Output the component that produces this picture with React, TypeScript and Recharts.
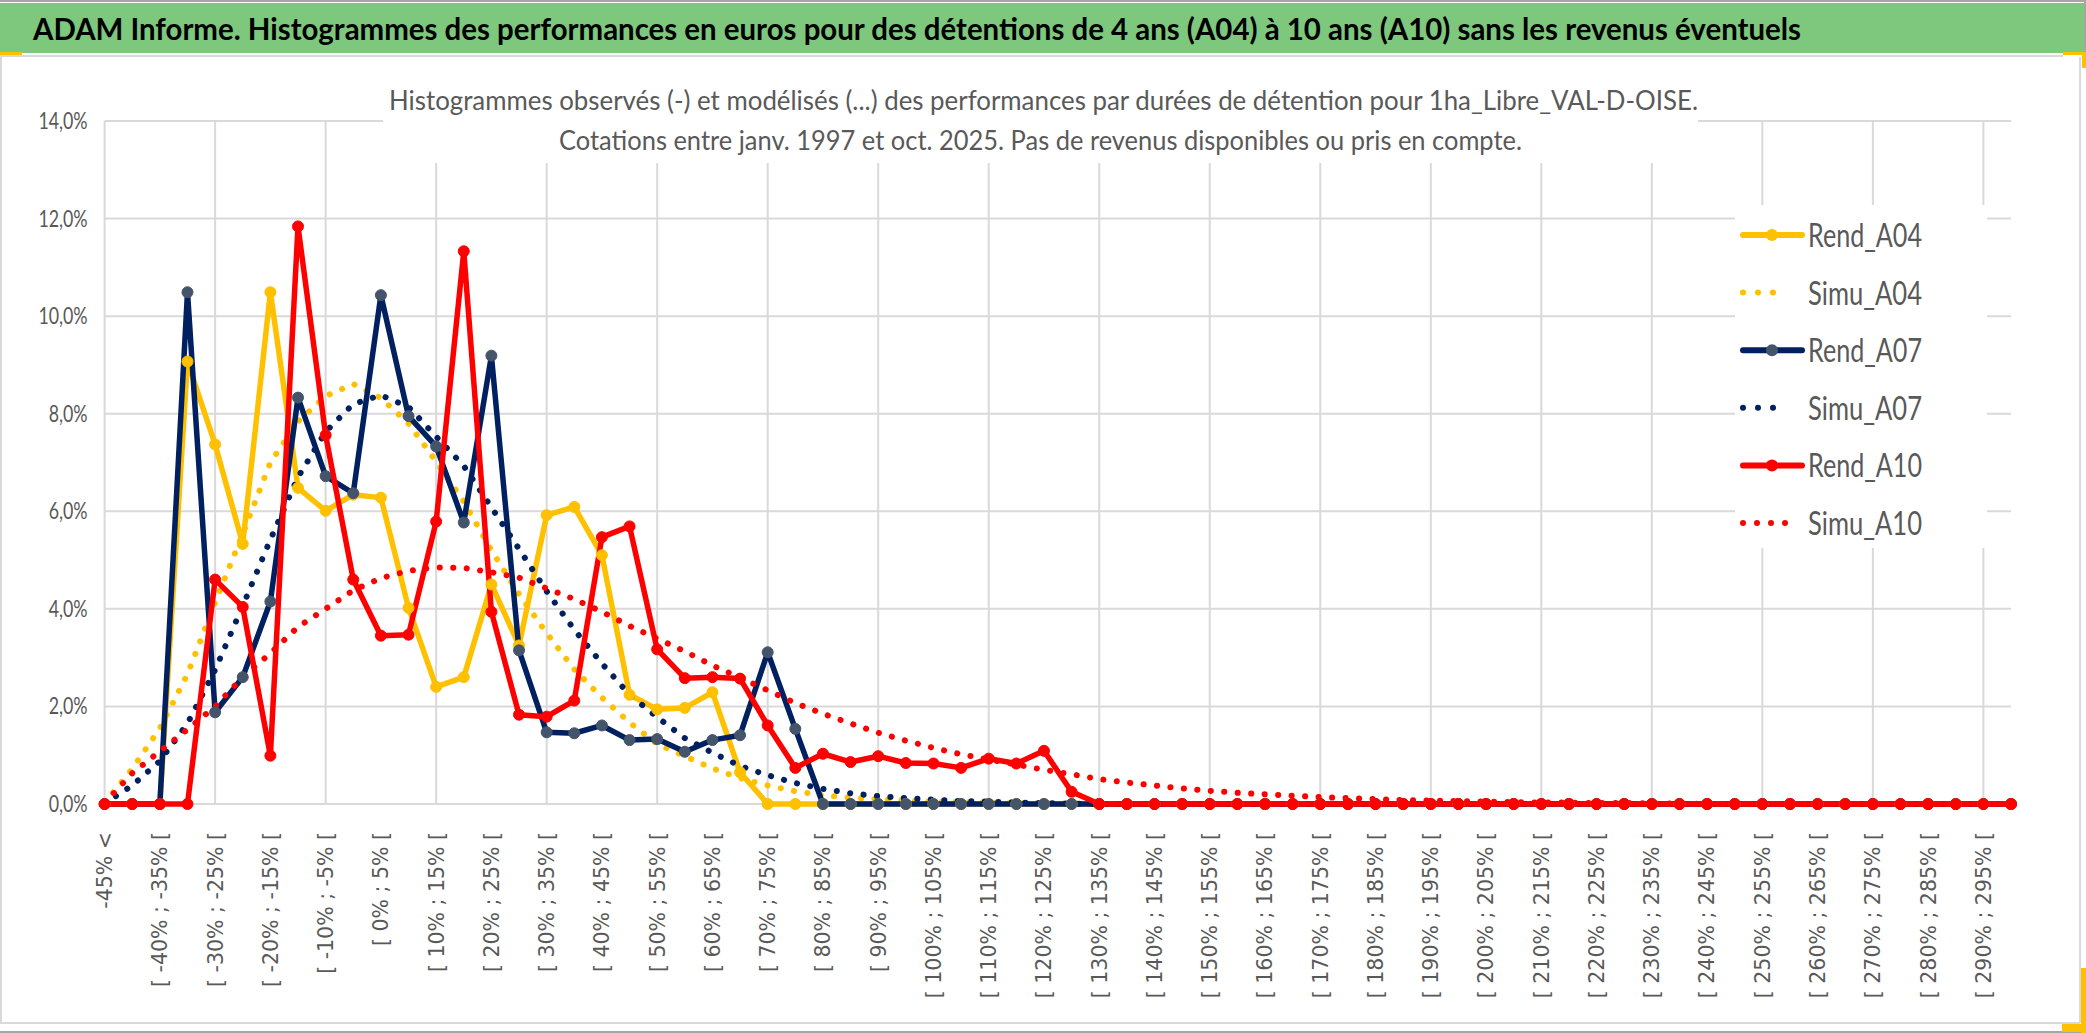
import React from 'react';
import { LineChart, Line, XAxis, YAxis, CartesianGrid, ReferenceLine } from 'recharts';

// Bins of the holding-period performance histograms
const CATEGORIES = [
  '-45% <', '[ -45% ; -40% [', '[ -40% ; -35% [', '[ -35% ; -30% [', '[ -30% ; -25% [',
  '[ -25% ; -20% [', '[ -20% ; -15% [', '[ -15% ; -10% [', '[ -10% ; -5% [', '[ -5% ; 0% [',
  '[ 0% ; 5% [', '[ 5% ; 10% [', '[ 10% ; 15% [', '[ 15% ; 20% [', '[ 20% ; 25% [',
  '[ 25% ; 30% [', '[ 30% ; 35% [', '[ 35% ; 40% [', '[ 40% ; 45% [', '[ 45% ; 50% [',
  '[ 50% ; 55% [', '[ 55% ; 60% [', '[ 60% ; 65% [', '[ 65% ; 70% [', '[ 70% ; 75% [',
  '[ 75% ; 80% [', '[ 80% ; 85% [', '[ 85% ; 90% [', '[ 90% ; 95% [', '[ 95% ; 100% [',
  '[ 100% ; 105% [', '[ 105% ; 110% [', '[ 110% ; 115% [', '[ 115% ; 120% [', '[ 120% ; 125% [',
  '[ 125% ; 130% [', '[ 130% ; 135% [', '[ 135% ; 140% [', '[ 140% ; 145% [', '[ 145% ; 150% [',
  '[ 150% ; 155% [', '[ 155% ; 160% [', '[ 160% ; 165% [', '[ 165% ; 170% [', '[ 170% ; 175% [',
  '[ 175% ; 180% [', '[ 180% ; 185% [', '[ 185% ; 190% [', '[ 190% ; 195% [', '[ 195% ; 200% [',
  '[ 200% ; 205% [', '[ 205% ; 210% [', '[ 210% ; 215% [', '[ 215% ; 220% [', '[ 220% ; 225% [',
  '[ 225% ; 230% [', '[ 230% ; 235% [', '[ 235% ; 240% [', '[ 240% ; 245% [', '[ 245% ; 250% [',
  '[ 250% ; 255% [', '[ 255% ; 260% [', '[ 260% ; 265% [', '[ 265% ; 270% [', '[ 270% ; 275% [',
  '[ 275% ; 280% [', '[ 280% ; 285% [', '[ 285% ; 290% [', '[ 290% ; 295% [', '[ 295% ; 300% [',
];

// values in %
const REND_A04 = [
  0, 0, 0, 9.07, 7.37, 5.33, 10.49, 6.48, 6.01, 6.34,
  6.28, 4.02, 2.4, 2.6, 4.5, 3.25, 5.92, 6.09, 5.1, 2.24,
  1.94, 1.97, 2.29, 0.65, 0, 0, 0, 0, 0, 0,
  0, 0, 0, 0, 0, 0, 0, 0, 0, 0,
  0, 0, 0, 0, 0, 0, 0, 0, 0, 0,
  0, 0, 0, 0, 0, 0, 0, 0, 0, 0,
  0, 0, 0, 0, 0, 0, 0, 0, 0, 0,
];
const SIMU_A04 = [
  0.02, 0.72, 1.55, 2.66, 4.13, 5.54, 7.0, 7.84, 8.36, 8.61,
  8.32, 7.8, 7.02, 6.2, 5.2, 4.3, 3.5, 2.76, 2.18, 1.67,
  1.23, 0.98, 0.73, 0.53, 0.38, 0.26, 0.18, 0.13, 0.1, 0.07,
  0.05, 0.04, 0.03, 0.02, 0.01, 0.01, 0, 0, 0, 0,
  0, 0, 0, 0, 0, 0, 0, 0, 0, 0,
  0, 0, 0, 0, 0, 0, 0, 0, 0, 0,
  0, 0, 0, 0, 0, 0, 0, 0, 0, 0,
];
const REND_A07 = [
  0, 0, 0, 10.49, 1.88, 2.6, 4.15, 8.33, 6.72, 6.37,
  10.43, 7.95, 7.33, 5.77, 9.19, 3.15, 1.47, 1.45, 1.61, 1.31,
  1.33, 1.07, 1.31, 1.41, 3.11, 1.54, 0, 0, 0, 0,
  0, 0, 0, 0, 0, 0, 0, 0, 0, 0,
  0, 0, 0, 0, 0, 0, 0, 0, 0, 0,
  0, 0, 0, 0, 0, 0, 0, 0, 0, 0,
  0, 0, 0, 0, 0, 0, 0, 0, 0, 0,
];
const SIMU_A07 = [
  0.01, 0.38, 0.88, 1.65, 2.75, 4.06, 5.42, 6.7, 7.63, 8.2,
  8.38, 8.14, 7.53, 6.93, 6.08, 5.23, 4.36, 3.57, 2.88, 2.24,
  1.78, 1.35, 1.05, 0.78, 0.59, 0.43, 0.31, 0.22, 0.16, 0.12,
  0.09, 0.06, 0.05, 0.03, 0.02, 0.01, 0, 0, 0, 0,
  0, 0, 0, 0, 0, 0, 0, 0, 0, 0,
  0, 0, 0, 0, 0, 0, 0, 0, 0, 0,
  0, 0, 0, 0, 0, 0, 0, 0, 0, 0,
];
const REND_A10 = [
  0, 0, 0, 0, 4.6, 4.04, 0.99, 11.84, 7.56, 4.6,
  3.45, 3.47, 5.79, 11.33, 3.94, 1.83, 1.79, 2.12, 5.47, 5.69,
  3.17, 2.58, 2.6, 2.57, 1.61, 0.74, 1.03, 0.86, 0.98, 0.84,
  0.83, 0.74, 0.93, 0.83, 1.09, 0.25, 0, 0, 0, 0,
  0, 0, 0, 0, 0, 0, 0, 0, 0, 0,
  0, 0, 0, 0, 0, 0, 0, 0, 0, 0,
  0, 0, 0, 0, 0, 0, 0, 0, 0, 0,
];
const SIMU_A10 = [
  0.02, 0.63, 1.08, 1.53, 2.0, 2.6, 3.09, 3.63, 4.0, 4.38,
  4.63, 4.78, 4.85, 4.84, 4.75, 4.64, 4.42, 4.2, 3.94, 3.65,
  3.39, 3.13, 2.84, 2.59, 2.33, 2.07, 1.85, 1.65, 1.46, 1.3,
  1.15, 1.02, 0.91, 0.81, 0.7, 0.61, 0.51, 0.44, 0.38, 0.32,
  0.27, 0.23, 0.2, 0.17, 0.14, 0.12, 0.1, 0.08, 0.07, 0.06,
  0.05, 0.04, 0.03, 0.03, 0.02, 0.02, 0.01, 0.01, 0, 0,
  0, 0, 0, 0, 0, 0, 0, 0, 0, 0,
];

const Y_TICKS = [0, 2, 4, 6, 8, 10, 12, 14];

const TITLE = 'ADAM Informe. Histogrammes des performances en euros pour des détentions de 4 ans (A04) à 10 ans (A10) sans les revenus éventuels';
const SUBTITLE_1 = 'Histogrammes observés (-) et modélisés (...) des performances par durées de détention pour 1ha_Libre_VAL-D-OISE.';
const SUBTITLE_2 = 'Cotations entre janv. 1997 et oct. 2025. Pas de revenus disponibles ou pris en compte.';

const GOLD = '#FFC000';
const NAVY = '#002060';
const RED = '#FF0000';
const GRID = '#D9D9D9';
const TEXT = '#595959';

const SERIES = [
  { key: 'rendA04', name: 'Rend_A04', color: GOLD, marker: GOLD, simu: false, values: REND_A04 },
  { key: 'simuA04', name: 'Simu_A04', color: GOLD, marker: GOLD, simu: true, values: SIMU_A04 },
  { key: 'rendA07', name: 'Rend_A07', color: NAVY, marker: '#44546A', simu: false, values: REND_A07 },
  { key: 'simuA07', name: 'Simu_A07', color: NAVY, marker: NAVY, simu: true, values: SIMU_A07 },
  { key: 'rendA10', name: 'Rend_A10', color: RED, marker: RED, simu: false, values: REND_A10 },
  { key: 'simuA10', name: 'Simu_A10', color: RED, marker: RED, simu: true, values: SIMU_A10 },
];

const data = CATEGORIES.map((cat, i) => {
  const row: any = { cat };
  SERIES.forEach(s => { row[s.key] = s.values[i]; });
  return row;
});

// vertical gridlines every 4 bins
const GRID_CATS = CATEGORIES.filter((_, i) => i % 4 === 0);

const fmtPct = (v: number) => `${v.toFixed(1).replace('.', ',')}%`;

const XTick = ({ x, y, payload }: any) => (
  <text transform={`translate(${x},${y}) rotate(-90)`} textAnchor="end" dy="0.36em"
    fontFamily="'DejaVu Sans', sans-serif" fontSize={20.5} fill={TEXT}>{payload.value}</text>
);

const YTick = ({ x, y, payload }: any) => (
  <g transform={`translate(${x},${y}) scale(1,1.25)`}>
    <text textAnchor="end" dy="0.36em" fontFamily="Lato, sans-serif" fontSize={17.8} fill={TEXT}>{fmtPct(payload.value)}</text>
  </g>
);

function Overlay() {
  return (
    <svg width={2086} height={1033} style={{ position: 'absolute', left: 0, top: 0, pointerEvents: 'none' }}>
      {/* frame */}
      <rect x={0} y={0} width={2086} height={2} fill="#A6A6A6" />
      <rect x={0} y={3} width={2086} height={50} fill="#7DC87D" />
      <rect x={2084} y={0} width={2} height={52} fill="#A6A6A6" />
      <rect x={0} y={55} width={2063} height={2} fill={GRID} />
      <rect x={0} y={52} width={22} height={3} fill={GOLD} />
      <rect x={2063} y={52} width={23} height={3} fill={GOLD} />
      <rect x={2082} y={52} width={4} height={16} fill={GOLD} />
      <rect x={2079} y={57} width={2} height={966} fill={GRID} />
      <rect x={0} y={57} width={2} height={966} fill={GRID} />
      <rect x={0} y={1022} width={2080} height={2} fill={GRID} />
      <rect x={0} y={1031} width={2086} height={2} fill="#A6A6A6" />
      <rect x={2081} y={968} width={5} height={65} fill={GOLD} />
      <rect x={2062} y={1024} width={24} height={8} fill={GOLD} />

      <text x={33} y={40} fontFamily="Lato, sans-serif" fontWeight={700} fontSize={31} fill="#000"
        textLength={1768} lengthAdjust="spacingAndGlyphs">{TITLE}</text>

      {/* subtitle box */}
      <rect x={383} y={84} width={1315} height={79} fill="#fff" />
      <text x={389} y={110} fontFamily="Lato, sans-serif" fontSize={27} fill={TEXT}
        textLength={1309} lengthAdjust="spacingAndGlyphs">{SUBTITLE_1}</text>
      <text x={559} y={150} fontFamily="Lato, sans-serif" fontSize={27} fill={TEXT}
        textLength={963} lengthAdjust="spacingAndGlyphs">{SUBTITLE_2}</text>

      {/* legend */}
      <rect x={1735} y={205} width={252} height={343} fill="#fff" />
      {SERIES.map((s, i) => {
        const cy = 235 + i * 57.6;
        const last = i === SERIES.length - 1;
        return (
          <g key={s.key}>
            {s.simu ? (
              <line x1={1743} x2={last ? 1799 : 1788} y1={cy} y2={cy} stroke={s.color} strokeWidth={6}
                strokeLinecap="round" strokeDasharray={last ? '0 14' : '0 15'} />
            ) : (
              <>
                <line x1={1743} x2={1802} y1={cy} y2={cy} stroke={s.color} strokeWidth={6} strokeLinecap="round" />
                <circle cx={1772} cy={cy} r={6} fill={s.marker} />
              </>
            )}
            <text x={1808} y={cy + 12} fontFamily="Lato, sans-serif" fontSize={33} fill={TEXT}
              textLength={114} lengthAdjust="spacingAndGlyphs">{s.name}</text>
          </g>
        );
      })}
    </svg>
  );
}

export default function App() {
  return (
    <div style={{ position: 'relative', width: 2086, height: 1033, overflow: 'hidden', background: '#fff' }}>
      <style>{'body{margin:0}'}</style>
      <LineChart width={2086} height={1033} data={data} margin={{ top: 121, right: 75, bottom: 29, left: 14.6 }}>
        <CartesianGrid vertical={false} stroke={GRID} strokeWidth={2} />
        {GRID_CATS.map(c => (
          <ReferenceLine key={c} x={c} stroke={GRID} strokeWidth={2} zIndex={-50} />
        ))}
        <XAxis dataKey="cat" interval={1} height={200} tickSize={0} tickMargin={28}
          axisLine={false} tickLine={false} tick={XTick} />
        <YAxis domain={[0, 14]} ticks={Y_TICKS} width={90} tickSize={0} tickMargin={17}
          axisLine={false} tickLine={false} tick={YTick} />
        {SERIES.map(s => s.simu ? (
          <Line key={s.key} dataKey={s.key} name={s.name} type="linear" stroke={s.color} strokeWidth={6}
            strokeLinecap="round" strokeDasharray="0.1 13.4" dot={false} activeDot={false} isAnimationActive={false} />
        ) : (
          <Line key={s.key} dataKey={s.key} name={s.name} type="linear" stroke={s.color} strokeWidth={5.5}
            strokeLinejoin="round" dot={{ r: 5.5, fill: s.marker, stroke: s.marker, strokeWidth: 1 }}
            activeDot={false} isAnimationActive={false} />
        ))}
      </LineChart>
      <Overlay />
    </div>
  );
}
